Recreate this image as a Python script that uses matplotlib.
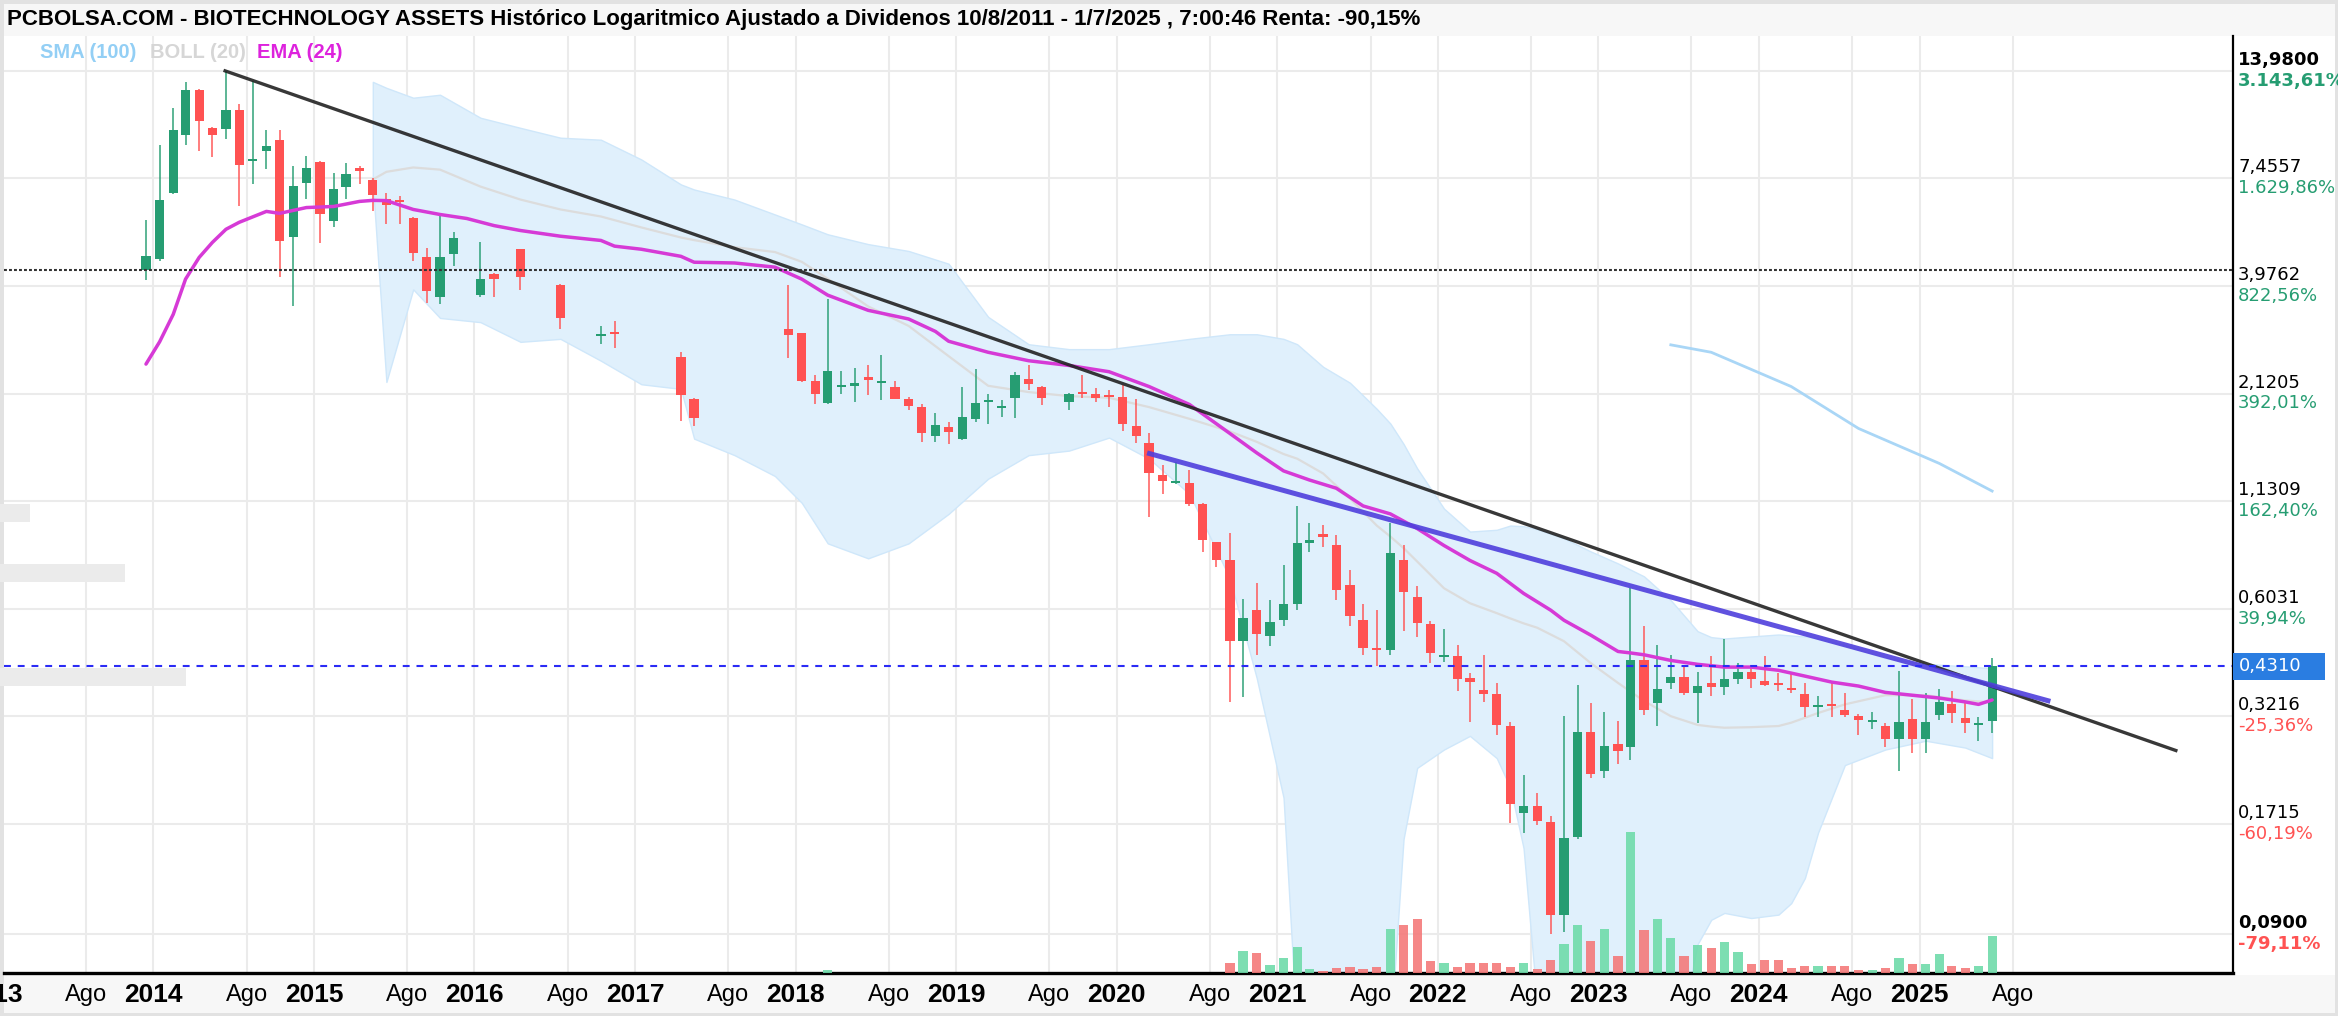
import numpy as np
import pandas as pd
import matplotlib
matplotlib.use('Agg')
import matplotlib.pyplot as plt
import matplotlib.dates as mdates
from matplotlib.patches import Rectangle
from matplotlib.transforms import blended_transform_factory

N = None
# Monthly candles from Dec 2013 to Jun 2025 (None = month without trades)
opens = [4.37, 4.65, 6.83, 9.63, 12.52, 10.0, 9.95, 11.14, 8.25, 8.77,
         9.35, 5.29, 7.27, 8.21, 5.81, 7.10, 7.93, 7.41, 6.63, 6.55,
         5.93, 4.70, 3.74, 4.79, N, 3.78, 4.26, N, 4.93, N,
         N, 3.99, N, N, 2.97, 3.02, N, N, N, N,
         2.62, 2.06, N, N, N, N, N, N, 3.09, 3.02,
         2.28, 2.01, 2.20, 2.22, 2.34, 2.25, 2.21, 2.05, 1.96, 1.66,
         1.74, 1.63, 1.83, 2.02, 1.95, 2.07, 2.31, 2.21, N, 2.02,
         2.12, 2.12, 2.09, 2.08, 1.76, 1.59, 1.32, 1.26, 1.26, 1.11,
         0.89, 0.80, 0.50, 0.60, 0.515, 0.566, 0.62, 0.887, 0.93, 0.877,
         0.695, 0.566, 0.480, 0.475, 0.801, 0.648, 0.551, 0.455, 0.457, 0.403,
         0.376, 0.366, 0.304, 0.183, 0.190, 0.174, 0.101, 0.159, 0.294, 0.234,
         0.273, 0.269, 0.446, 0.348, 0.391, 0.406, 0.369, 0.391, 0.381, 0.401,
         0.418, 0.396, 0.392, 0.380, 0.367, 0.340, 0.346, 0.333, 0.322, 0.311,
         0.304, 0.281, 0.317, 0.281, 0.324, 0.346, 0.319, 0.306, 0.313]
highs = [5.85, 9.08, 11.25, 13.09, 12.60, 10.1, 13.98, 11.54, 13.14, 9.87,
         9.87, 8.01, 8.49, 8.25, 7.70, 8.17, 8.01, 7.48, 6.83, 6.72,
         5.95, 4.98, 5.98, 5.45, N, 5.14, 4.28, N, 4.95, N,
         N, 4.02, N, N, 3.15, 3.25, N, N, N, N,
         2.71, 2.07, N, N, N, N, N, N, 3.99, 3.03,
         2.36, 3.68, 2.42, 2.47, 2.50, 2.65, 2.28, 2.08, 2.00, 1.89,
         1.80, 2.21, 2.45, 2.12, 2.04, 2.41, 2.50, 2.22, N, 2.13,
         2.37, 2.19, 2.17, 2.23, 2.05, 1.68, 1.40, 1.42, 1.36, 1.12,
         0.89, 0.94, 0.64, 0.70, 0.635, 0.78, 1.10, 0.996, 0.986, 0.929,
         0.757, 0.619, 0.599, 0.996, 0.877, 0.688, 0.562, 0.536, 0.488, 0.414,
         0.460, 0.391, 0.311, 0.229, 0.206, 0.180, 0.322, 0.387, 0.348, 0.330,
         0.313, 0.683, 0.544, 0.489, 0.461, 0.431, 0.418, 0.457, 0.506, 0.439,
         0.435, 0.457, 0.414, 0.412, 0.391, 0.362, 0.391, 0.369, 0.326, 0.330,
         0.309, 0.420, 0.355, 0.369, 0.378, 0.374, 0.348, 0.320, 0.452]
lows = [4.11, 4.60, 6.79, 9.08, 8.74, 8.46, 9.39, 6.34, 7.20, 7.90,
        4.19, 3.54, 6.62, 5.12, 5.62, 6.63, 7.20, 6.16, 5.70, 5.70,
        4.60, 3.61, 3.58, 4.46, N, 3.72, 3.72, N, 3.89, N,
        N, 3.10, N, N, 2.83, 2.77, N, N, N, N,
        1.81, 1.76, N, N, N, N, N, N, 2.61, 2.27,
        1.99, 2.00, 2.11, 2.02, 2.10, 2.04, 2.05, 1.93, 1.60, 1.60,
        1.58, 1.62, 1.80, 1.78, 1.85, 1.84, 2.16, 1.98, N, 1.93,
        2.07, 2.02, 1.96, 1.70, 1.59, 1.03, 1.18, 1.25, 1.10, 0.84,
        0.77, 0.35, 0.36, 0.46, 0.485, 0.545, 0.60, 0.841, 0.865, 0.635,
        0.545, 0.460, 0.432, 0.460, 0.531, 0.511, 0.439, 0.443, 0.374, 0.311,
        0.349, 0.289, 0.173, 0.163, 0.170, 0.090, 0.091, 0.157, 0.225, 0.225,
        0.243, 0.249, 0.325, 0.304, 0.378, 0.365, 0.309, 0.362, 0.365, 0.388,
        0.380, 0.383, 0.374, 0.369, 0.320, 0.320, 0.320, 0.320, 0.289, 0.299,
        0.269, 0.234, 0.260, 0.260, 0.314, 0.309, 0.292, 0.278, 0.292]
closes = [4.74, 6.59, 9.91, 12.52, 10.45, 9.63, 11.14, 8.05, 8.35, 9.03,
          5.17, 7.15, 7.93, 6.04, 6.99, 7.66, 7.78, 6.76, 6.40, 6.50,
          4.83, 3.86, 4.70, 5.28, N, 4.14, 4.15, N, 4.19, N,
          N, 3.29, N, N, 3.00, 3.00, N, N, N, N,
          2.10, 1.84, N, N, N, N, N, N, 2.99, 2.28,
          2.11, 2.42, 2.23, 2.25, 2.30, 2.28, 2.06, 1.97, 1.68, 1.77,
          1.69, 1.85, 2.01, 2.04, 1.97, 2.37, 2.24, 2.07, N, 2.12,
          2.11, 2.07, 2.08, 1.78, 1.66, 1.33, 1.27, 1.27, 1.11, 0.90,
          0.80, 0.50, 0.57, 0.52, 0.557, 0.619, 0.887, 0.902, 0.92, 0.673,
          0.578, 0.480, 0.475, 0.837, 0.666, 0.554, 0.465, 0.458, 0.399, 0.393,
          0.366, 0.306, 0.193, 0.190, 0.175, 0.101, 0.158, 0.294, 0.230, 0.270,
          0.262, 0.446, 0.334, 0.378, 0.406, 0.369, 0.383, 0.381, 0.401, 0.418,
          0.401, 0.387, 0.386, 0.376, 0.339, 0.342, 0.341, 0.324, 0.314, 0.314,
          0.282, 0.311, 0.281, 0.311, 0.350, 0.328, 0.309, 0.308, 0.431]
# relative volume (largest month = 100)
volumes = ([0] * 51 + [2.1] + [0] * 29 +
           [7.3, 15.8, 14.4, 5.7, 10.4, 18.7, 2.8, 1.6, 3.3, 4.5,
            2.8, 4.5, 31.3, 34.1, 38.4, 8.5, 7.3, 4.5, 7.3, 7.3,
            7.3, 4.5, 7.3, 2.8, 9.0, 20.6, 34.3, 23.0, 31.5, 11.9,
            100, 30.3, 38.6, 24.7, 11.9, 20.1, 17.6, 22.0, 14.7, 6.4,
            9.0, 9.0, 3.6, 5.2, 5.2, 5.2, 5.2, 2.3, 2.3, 3.6,
            10.7, 6.4, 6.4, 13.5, 5.2, 3.6, 5.2, 26.5])

# EMA(24) (month index, price)
ema_k = [0, 1, 2, 3, 4, 5, 6, 7, 9, 10, 12, 14, 16, 17, 18, 20, 22, 24, 26, 28,
         31, 34, 35, 37, 40, 41, 44, 47, 49, 51, 54, 57, 59, 60, 63, 66, 69, 72, 75, 78,
         81, 83, 85, 87, 89, 91, 93, 95, 97, 99, 101, 103, 105, 106, 108, 110, 111, 112, 114, 116,
         118, 120, 122, 124, 126, 128, 130, 132, 134, 136, 137, 138]
ema_val = [2.52, 2.87, 3.37, 4.14, 4.70, 5.13, 5.54, 5.77, 6.15, 6.08, 6.29, 6.33, 6.52, 6.56, 6.55, 6.22, 6.04, 5.90, 5.66, 5.50,
           5.32, 5.19, 5.02, 4.93, 4.73, 4.57, 4.55, 4.44, 4.14, 3.77, 3.45, 3.28, 3.05, 2.88, 2.70, 2.57, 2.50, 2.41, 2.21, 1.99,
           1.68, 1.50, 1.35, 1.28, 1.22, 1.10, 1.05, 0.964, 0.873, 0.800, 0.742, 0.660, 0.598, 0.564, 0.517, 0.470, 0.466, 0.461, 0.446, 0.436,
           0.429, 0.429, 0.421, 0.407, 0.393, 0.384, 0.370, 0.364, 0.358, 0.350, 0.345, 0.354]

# BOLL(20)
boll_k = [17, 18, 20, 22, 25, 28, 31, 34, 37, 40, 41, 44, 47, 49, 51, 54, 57, 60, 63, 66,
          69, 72, 75, 78, 81, 83, 85, 86, 88, 90, 92, 93, 94, 95, 97, 99, 101, 102, 103, 104,
          106, 108, 110, 112, 114, 116, 117, 118, 120, 122, 123, 124, 125, 127, 130, 133, 136, 138]
boll_up = [13.11, 12.66, 11.95, 12.16, 10.63, 10.02, 9.46, 9.35, 8.33, 7.20, 6.99, 6.59, 6.04, 5.70, 5.38, 5.08, 4.88, 4.53, 3.32, 2.83,
           2.75, 2.75, 2.83, 2.92, 3.00, 3.00, 2.92, 2.83, 2.48, 2.26, 1.94, 1.78, 1.58, 1.37, 1.083, 0.947, 0.957, 0.981, 0.977, 0.960,
           0.910, 0.843, 0.786, 0.729, 0.634, 0.529, 0.511, 0.507, 0.513, 0.519, 0.516, 0.513, 0.507, 0.488, 0.452, 0.437, 0.431, 0.426]
boll_mid = [7.41, 7.75, 7.95, 7.85, 7.11, 6.59, 6.22, 5.97, 5.60, 5.28, 5.20, 4.99, 4.85, 4.58, 4.15, 3.53, 3.15, 2.64, 2.22, 2.14,
            2.09, 2.07, 1.96, 1.83, 1.70, 1.60, 1.49, 1.45, 1.33, 1.15, 0.981, 0.92, 0.86, 0.795, 0.680, 0.623, 0.588, 0.570, 0.554, 0.540,
            0.499, 0.439, 0.391, 0.352, 0.322, 0.306, 0.303, 0.301, 0.302, 0.304, 0.310, 0.319, 0.328, 0.345, 0.364, 0.364, 0.353, 0.349]
boll_low = [7.28, 2.27, 3.90, 3.30, 3.22, 2.87, 2.92, 2.57, 2.24, 2.18, 1.63, 1.48, 1.31, 1.12, 0.884, 0.810, 0.884, 1.05, 1.29, 1.48,
            1.52, 1.64, 1.45, 1.18, 0.720, 0.402, 0.200, 0.05, 0.04, 0.04, 0.04, 0.05, 0.157, 0.238, 0.265, 0.287, 0.252, 0.212, 0.149, 0.06,
            0.04, 0.04, 0.04, 0.04, 0.04, 0.085, 0.098, 0.102, 0.099, 0.101, 0.108, 0.125, 0.163, 0.242, 0.265, 0.279, 0.268, 0.252]

# SMA(100)
sma_k = [114, 117, 123, 128, 134, 138]
sma_val = [2.82, 2.70, 2.21, 1.73, 1.41, 1.20]

price_levels = [13.98, 7.4557, 3.9762, 2.1205, 1.1309, 0.6031, 0.3216, 0.1715, 0.0900]
pct_labels = ['3.143,61%', '1.629,86%', '822,56%', '392,01%', '162,40%', '39,94%', '-25,36%', '-60,19%', '-79,11%']
last_price = 0.4310
ref_level = 4.36
black_trend = [('2014-06-13', 13.98), ('2026-08-07', 0.2635)]
blue_trend = [('2020-03-16', 1.494), ('2025-10-20', 0.3525)]
years = list(range(2013, 2026))

title = ('PCBOLSA.COM - BIOTECHNOLOGY ASSETS Histórico Logaritmico Ajustado a Dividenos '
         '10/8/2011 - 1/7/2025 , 7:00:46 Renta: -90,15%')

GREEN, RED = '#269d72', '#ff5252'
NARROW = ['Liberation Sans Narrow', 'Liberation Sans', 'DejaVu Sans']

W, H = 2338, 1016
fig = plt.figure(figsize=(W / 100, H / 100), dpi=100)
fig.patch.set_facecolor('white')

def fx(px):
    return px / W

def fy(py):
    return 1 - py / H

ax = fig.add_axes([fx(4), fy(973), fx(2233) - fx(4), fy(36) - fy(973)])
ax.set_yscale('log')
ax.set_ylim(0.0718, 17.14)
ax.set_xlim(mdates.date2num(pd.Timestamp('2013-01-26')), mdates.date2num(pd.Timestamp('2026-12-15')))
ax.set_xticks([])
ax.set_yticks([])
ax.yaxis.set_minor_locator(matplotlib.ticker.NullLocator())
for s in ['top', 'left']:
    ax.spines[s].set_visible(False)
ax.spines['right'].set_linewidth(1.6)
ax.spines['bottom'].set_linewidth(2.4)
ax.spines['right'].set_zorder(10)
ax.spines['bottom'].set_zorder(10)

dates = [pd.Timestamp(2013, 12, 15) + pd.DateOffset(months=k) for k in range(len(opens))]
xd = mdates.date2num(dates)

def kx(ks):
    return [xd[k] for k in ks]

# grid
for y in years:
    for m in (1, 8):
        ax.axvline(mdates.date2num(pd.Timestamp(y, m, 1)), color='#ebebeb', lw=1.5, zorder=0)
for p in price_levels:
    ax.axhline(p, color='#ebebeb', lw=1.5, zorder=0)

# bollinger band
ax.fill_between(kx(boll_k), boll_low, boll_up, color='#e0f0fc', edgecolor='#cfe7fa', lw=1, zorder=1)
ax.plot(kx(boll_k), boll_mid, color='#dcdcdc', lw=1.6, zorder=2)
ax.plot(kx(sma_k), sma_val, color='#a9d6f6', lw=2, zorder=2)

# candles
bw = 21
for i in range(len(opens)):
    if opens[i] is None:
        continue
    up = closes[i] >= opens[i]
    col = GREEN if up else RED
    ax.vlines(xd[i], lows[i], highs[i], color=col, lw=1.4, alpha=0.75, zorder=3)
    lo, hi = min(opens[i], closes[i]), max(opens[i], closes[i])
    hi = max(hi, lo * 1.012)
    ax.bar(xd[i], hi - lo, bottom=lo, width=bw, color=col, zorder=3)

ax.plot(kx(ema_k), ema_val, color='#d63ad6', lw=2.5, zorder=4, solid_capstyle='round')

# trend lines
bt = [mdates.date2num(pd.Timestamp(d)) for d, _ in black_trend]
ax.plot(bt, [p for _, p in black_trend], color='#222222', lw=2.4, alpha=0.9, zorder=5)
bl = [mdates.date2num(pd.Timestamp(d)) for d, _ in blue_trend]
ax.plot(bl, [p for _, p in blue_trend], color='#4f3fdc', lw=3.6, alpha=0.9, zorder=5)

ax.axhline(ref_level, color='#333333', lw=1.5, ls=(0, (1.4, 1.0)), zorder=6)
ax.axhline(last_price, color='#2b2bf5', lw=1.5, ls=(0, (3.3, 3.3)), zorder=6)

# volume
axv = ax.twinx()
axv.set_ylim(0, max(volumes) * 936 / 140.7)
axv.axis('off')
for i, v in enumerate(volumes):
    if v <= 0 or opens[i] is None:
        continue
    up = closes[i] >= opens[i]
    axv.bar(xd[i], v, width=bw, color='#6fdbaa' if up else '#f47a7a', alpha=0.9, zorder=2)

# right price axis labels
tr = blended_transform_factory(ax.transAxes, ax.transData)
for j, (p, lab) in enumerate(zip(price_levels, pct_labels)):
    bold = 'bold' if j in (0, len(price_levels) - 1) else 'normal'
    ax.annotate(f'{p:.4f}'.replace('.', ','), xy=(1, p), xycoords=tr, xytext=(3.6, 8), textcoords='offset points',
                ha='left', va='center', fontsize=13, fontweight=bold, color='black', annotation_clip=False)
    ax.annotate(lab, xy=(1, p), xycoords=tr, xytext=(3.6, -7), textcoords='offset points',
                ha='left', va='center', fontsize=13, fontweight=bold,
                color=GREEN if not lab.startswith('-') else RED, annotation_clip=False)
box_h = 1.0818
ax.add_patch(Rectangle((1.0, last_price / box_h), 92 / 2229, last_price * box_h - last_price / box_h,
                       transform=tr, facecolor='#2a7de1', edgecolor='none', clip_on=False, zorder=11))
ax.annotate(f'{last_price:.4f}'.replace('.', ','), xy=(1, last_price), xycoords=tr, xytext=(4.5, 0),
            textcoords='offset points', ha='left', va='center', fontsize=13, color='white',
            annotation_clip=False, zorder=12)

# x labels
trx = blended_transform_factory(ax.transData, ax.transAxes)
for y in years:
    ax.text(mdates.date2num(pd.Timestamp(y, 1, 1)), -0.0235, str(y), transform=trx, ha='center', va='center',
            fontsize=19, fontweight='bold', family=NARROW, clip_on=False)
    ax.text(mdates.date2num(pd.Timestamp(y, 8, 1)), -0.0235, 'Ago', transform=trx, ha='center', va='center',
            fontsize=17, family=NARROW, clip_on=False)

# frame decoration (behind the axes)
fig.patches.append(Rectangle((0, fy(36)), 1, 36 / H, transform=fig.transFigure, facecolor='#f7f7f7',
                             edgecolor='none', zorder=-2))
fig.patches.append(Rectangle((0, 0), 1, fy(975), transform=fig.transFigure, facecolor='#f7f7f7',
                             edgecolor='none', zorder=-2))
fig.patches.append(Rectangle((0, 0), 1, 1, transform=fig.transFigure, facecolor='none', edgecolor='#e2e2e2',
                             lw=5, zorder=-1))
for (x0, x1, y0, y1) in [(0, 30, 504, 522), (0, 125, 564, 582), (0, 186, 668, 686)]:
    fig.patches.append(Rectangle((fx(x0), fy(y1)), fx(x1) - fx(x0), (y1 - y0) / H, transform=fig.transFigure,
                                 facecolor='#ebebeb', edgecolor='none', zorder=1))

fig.text(fx(7), fy(20), title, fontsize=16, fontweight='bold', family=NARROW, va='center', ha='left')
fig.text(fx(40), fy(53), 'SMA (100)', fontsize=14.5, fontweight='bold', family=NARROW, color='#93cff5', va='center')
fig.text(fx(150), fy(53), 'BOLL (20)', fontsize=14.5, fontweight='bold', family=NARROW, color='#d6d6d6', va='center')
fig.text(fx(257), fy(53), 'EMA (24)', fontsize=14.5, fontweight='bold', family=NARROW, color='#dd22dd', va='center')

fig.savefig('out.png', dpi=100)
